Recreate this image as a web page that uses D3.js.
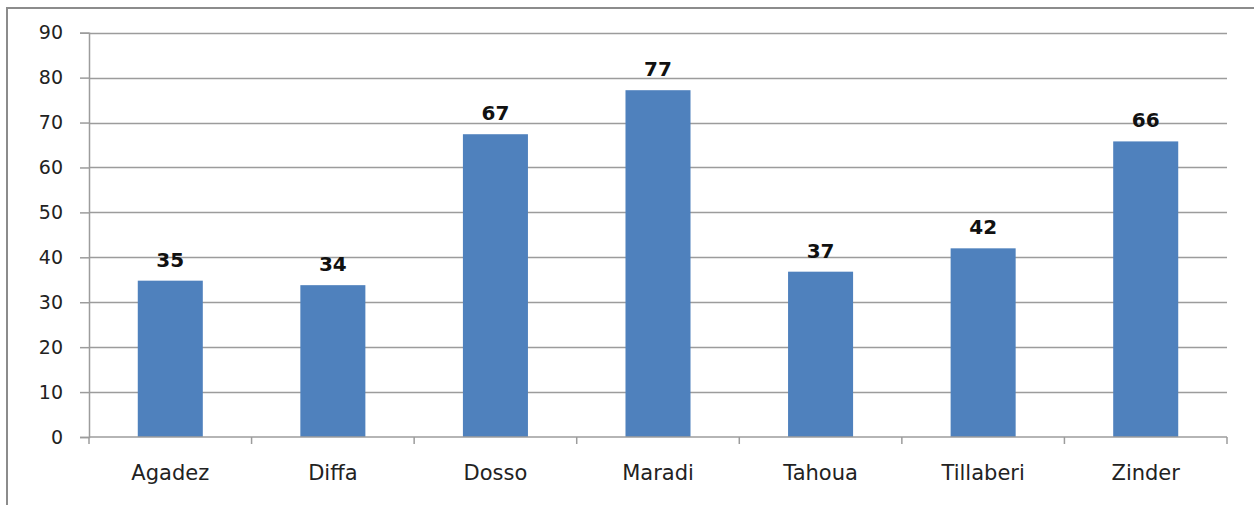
<!DOCTYPE html>
<html>
<head>
<meta charset="utf-8">
<script src="https://cdn.jsdelivr.net/npm/d3@7"></script>
<style>
    body { margin: 0; background: #fff; }
    svg text { font-family: "DejaVu Sans", Verdana, sans-serif; }
</style>
</head>
<body>
<svg width=1254 height=505></svg>
<script>
    // regions and values
    const regions = ["Agadez", "Diffa", "Dosso", "Maradi", "Tahoua", "Tillaberi", "Zinder"];
    const values = [34.8, 33.8, 67.4, 77.2, 36.8, 42.0, 65.8];
    const yTicks = [0, 10, 20, 30, 40, 50, 60, 70, 80, 90];

    const svg = d3.select('svg');

    // outer frame (runs off the right and bottom edge)
    svg.append('rect')
        .attr('x', 7).attr('y', 8)
        .attr('width', 1260).attr('height', 510)
        .attr('fill', 'none')
        .attr('stroke', '#8c8c8c')
        .attr('stroke-width', 2);

    const plotLeft = 89, plotRight = 1227, plotTop = 32.7, plotBottom = 437;

    var xs = d3.scaleBand().domain(regions).range([plotLeft, plotRight]).padding(0);
    var ys = d3.scaleLinear().domain([0, 90]).range([plotBottom, plotTop]);

    // gridlines
    svg.append('g').selectAll('line').data(yTicks.slice(1)).enter().append('line')
        .attr('x1', plotLeft).attr('x2', plotRight)
        .attr('y1', function (d) { return Math.round(ys(d)) + 0.5; })
        .attr('y2', function (d) { return Math.round(ys(d)) + 0.5; })
        .attr('stroke', '#9c9c9c')
        .attr('stroke-width', 1.5);

    // y axis
    var yAxis = svg.append('g')
        .attr('transform', 'translate(' + plotLeft + ',0)')
        .call(d3.axisLeft(ys).tickValues(yTicks).tickSize(9).tickPadding(17));
    yAxis.select('.domain').attr('stroke', '#9c9c9c').attr('stroke-width', 1.5);
    yAxis.selectAll('.tick line').attr('stroke', '#9c9c9c').attr('stroke-width', 1.5);
    yAxis.selectAll('.tick text')
        .style('font-size', '19px')
        .attr('fill', '#222');

    // bars
    svg.append('g').selectAll('rect').data(values).enter().append('rect')
        .attr('x', function (d, i) { return xs(regions[i]) + xs.bandwidth() * 0.3; })
        .attr('width', xs.bandwidth() * 0.4)
        .attr('y', function (d) { return ys(d); })
        .attr('height', function (d) { return ys(0) - ys(d); })
        .attr('fill', '#4f81bd');

    // x axis
    svg.append('line')
        .attr('x1', plotLeft).attr('x2', plotRight)
        .attr('y1', plotBottom).attr('y2', plotBottom)
        .attr('stroke', '#9c9c9c').attr('stroke-width', 1.5);
    var bounds = regions.map(function (r) { return xs(r); }).concat([plotRight]);
    svg.append('g').selectAll('line').data(bounds).enter().append('line')
        .attr('x1', function (d) { return d; }).attr('x2', function (d) { return d; })
        .attr('y1', plotBottom).attr('y2', plotBottom + 7)
        .attr('stroke', '#9c9c9c').attr('stroke-width', 1.5);

    svg.append('g').selectAll('text').data(regions).enter().append('text')
        .attr('x', function (d) { return xs(d) + xs.bandwidth() / 2; })
        .attr('y', 480)
        .attr('text-anchor', 'middle')
        .style('font-size', '21px')
        .attr('fill', '#222')
        .text(function (d) { return d; });

    // data labels
    svg.append('g').selectAll('text').data(values).enter().append('text')
        .attr('x', function (d, i) { return xs(regions[i]) + xs.bandwidth() / 2; })
        .attr('y', function (d) { return ys(d) - 14; })
        .attr('text-anchor', 'middle')
        .style('font-size', '20px')
        .style('font-weight', 'bold')
        .attr('fill', '#111')
        .text(function (d) { return d3.format('.0f')(d); });
</script>
</body>
</html>
